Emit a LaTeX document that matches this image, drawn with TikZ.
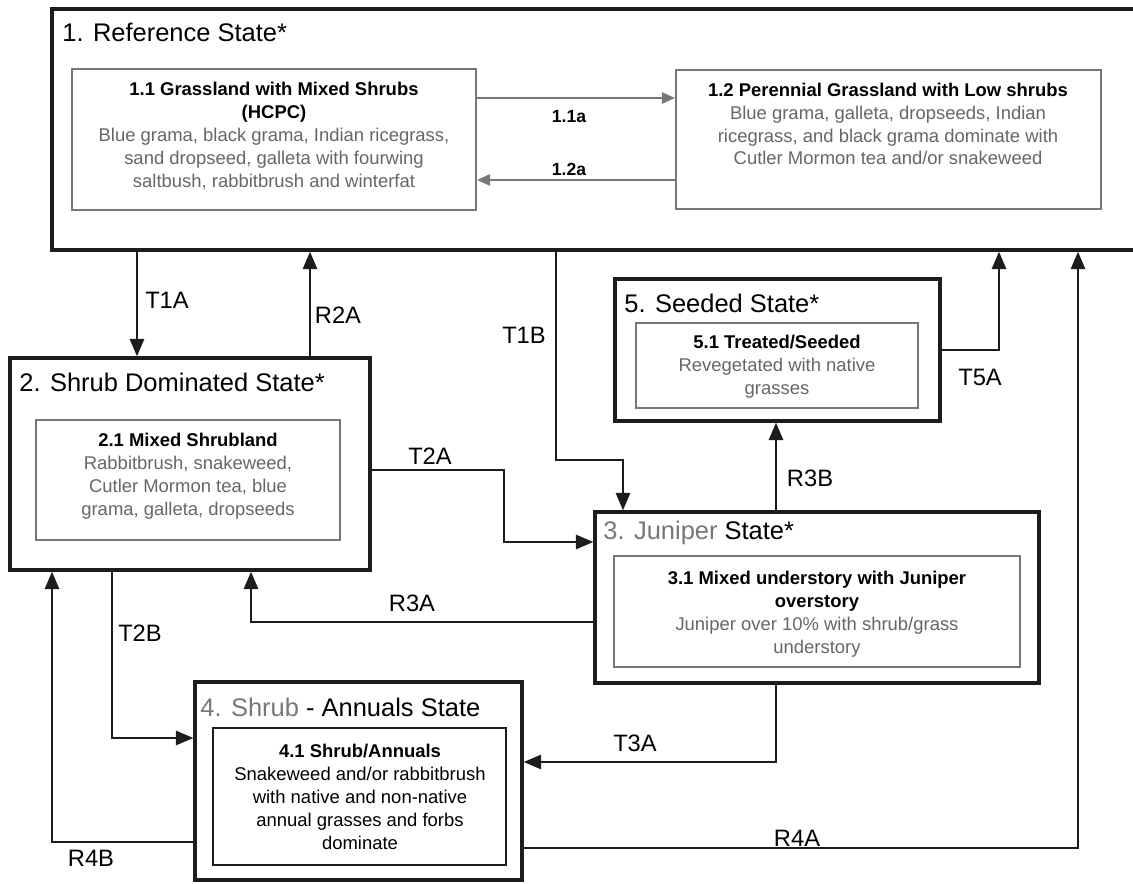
\documentclass[tikz,border=0pt]{standalone}
\usepackage{fontspec}
\setmainfont{Liberation Sans}
\usetikzlibrary{arrows.meta, fit}
\definecolor{descgray}{HTML}{666666}
\definecolor{framegray}{HTML}{777777}
\definecolor{linedark}{HTML}{1C1C1C}
\tikzset{
  statebox/.style={draw=linedark, line width=1.8pt, inner sep=0pt},
  subbox/.style={draw=framegray, line width=1.2pt, inner sep=0pt},
  subboxdark/.style={draw=linedark, line width=1.3pt, inner sep=0pt},
  statetitle/.style={anchor=west, inner sep=0pt, font=\fontsize{14.5}{17}\selectfont},
  subtext/.style={align=center, inner sep=0pt, text=descgray, font=\fontsize{10.5}{13}\selectfont},
  conn/.style={draw=linedark, line width=1.6pt, -{Triangle[length=10pt, width=8pt]}},
  phasearr/.style={draw=framegray, line width=1.2pt, -{Triangle[length=7.5pt, width=6.5pt]}},
  trlabel/.style={inner sep=0pt, font=\fontsize{13.5}{16}\selectfont},
  phaselabel/.style={inner sep=0pt, font=\bfseries\fontsize{10}{12}\selectfont},
}
\newcommand{\subhead}[1]{\textcolor{black}{\bfseries #1}}

\begin{document}
\begin{tikzpicture}[x=0.02cm, y=-0.02cm]
  \useasboundingbox (0,0) rectangle (1133,884);
  \clip (0,0) rectangle (1133,884);

  % state frames
  \node[statebox, fit={(52,9) (1145,250)}] (s1) {};
  \node[statebox, fit={(10,358) (370,570)}] (s2) {};
  \node[statebox, fit={(595,512) (1039,683)}] (s3) {};
  \node[statebox, fit={(195,682) (522,880)}] (s4) {};
  \node[statebox, fit={(615,279) (940,421)}] (s5) {};

  % state titles
  \node[statetitle] (s1t) at (62,32) {1. Reference State*};
  \node[statetitle] (s2t) at (19,382) {2. Shrub Dominated State*};
  \node[statetitle] (s3t) at (603,533) {\textcolor{framegray}{3. Juniper} State*};
  \node[statetitle] (s4t) at (200,707) {\textcolor{framegray}{4. Shrub} - Annuals State};
  \node[statetitle] (s5t) at (624,303) {5. Seeded State*};

  % community phases
  \node[subbox, fit={(72,69) (476,210)}] (b11) {};
  \node[subtext] (b11t) at (274,136) {\subhead{1.1 Grassland with Mixed Shrubs}\\
    \subhead{(HCPC)}\\Blue grama, black grama, Indian ricegrass,\\
    sand dropseed, galleta with fourwing\\saltbush, rabbitbrush and winterfat};
  \node[subbox, fit={(676,70) (1101,209)}] (b12) {};
  \node[subtext] (b12t) at (888,124) {\subhead{1.2 Perennial Grassland with Low shrubs}\\
    Blue grama, galleta, dropseeds, Indian\\ricegrass, and black grama dominate with\\
    Cutler Mormon tea and/or snakeweed};
  \node[subbox, fit={(36,420) (340,540)}] (b21) {};
  \node[subtext] (b21t) at (188,476) {\subhead{2.1 Mixed Shrubland}\\Rabbitbrush, snakeweed,\\
    Cutler Mormon tea, blue\\grama, galleta, dropseeds};
  \node[subbox, fit={(614,556) (1020,667)}] (b31) {};
  \node[subtext] (b31t) at (817,614) {\subhead{3.1 Mixed understory with Juniper}\\
    \subhead{overstory}\\Juniper over 10\% with shrub/grass\\understory};
  \node[subboxdark, fit={(213,728) (506,865)}] (b41) {};
  \node[subtext, text=black] (b41t) at (360,797) {\subhead{4.1 Shrub/Annuals}\\
    Snakeweed and/or rabbitbrush\\with native and non-native\\
    annual grasses and forbs\\dominate};
  \node[subbox, fit={(636,323) (918,408)}] (b51) {};
  \node[subtext] (b51t) at (777,367) {\subhead{5.1 Treated/Seeded}\\
    Revegetated with native\\grasses};

  % pathways inside the reference state
  \draw[phasearr] (b11.east |- 0,98) -- (b12.west |- 0,98);
  \draw[phasearr] (b12.west |- 0,180) -- (b11.east |- 0,180);
  \node[phaselabel] (p11a) at (569,117) {1.1a};
  \node[phaselabel] (p12a) at (569,169) {1.2a};

  % transitions and restorations
  \draw[conn] (s1.south -| 137,0) -- (s2.north -| 137,0);
  \draw[conn] (s2.north -| 310,0) -- (s1.south -| 310,0);
  \draw[conn] (s1.south -| 556,0) |- (623,460) -- (s3.north -| 623,0);
  \draw[conn] (s2.east |- 0,470) -| (504,542) -- (s3.west |- 0,542);
  \draw[conn] (s3.north -| 776,0) -- (s5.south -| 776,0);
  \draw[conn] (s5.east |- 0,350) -| (s1.south -| 999,0);
  \draw[conn] (s3.west |- 0,622) -| (s2.south -| 251,0);
  \draw[conn] (s2.south -| 112,0) |- (s4.west |- 0,738);
  \draw[conn] (s3.south -| 776,0) |- (s4.east |- 0,762);
  \draw[conn] (s4.west |- 0,842) -| (s2.south -| 52,0);
  \draw[conn] (s4.east |- 0,848) -| (s1.south -| 1078,0);

  \node[trlabel] (lt1a) at (167,300) {T1A};
  \node[trlabel] (lr2a) at (338,315) {R2A};
  \node[trlabel] (lt1b) at (524,335) {T1B};
  \node[trlabel] (lt2a) at (430,456) {T2A};
  \node[trlabel] (lr3b) at (810,478) {R3B};
  \node[trlabel] (lt5a) at (980,377) {T5A};
  \node[trlabel] (lr3a) at (412,603) {R3A};
  \node[trlabel] (lt2b) at (140,633) {T2B};
  \node[trlabel] (lt3a) at (635,743) {T3A};
  \node[trlabel] (lr4b) at (91,858) {R4B};
  \node[trlabel] (lr4a) at (797,838) {R4A};
\end{tikzpicture}
\end{document}
